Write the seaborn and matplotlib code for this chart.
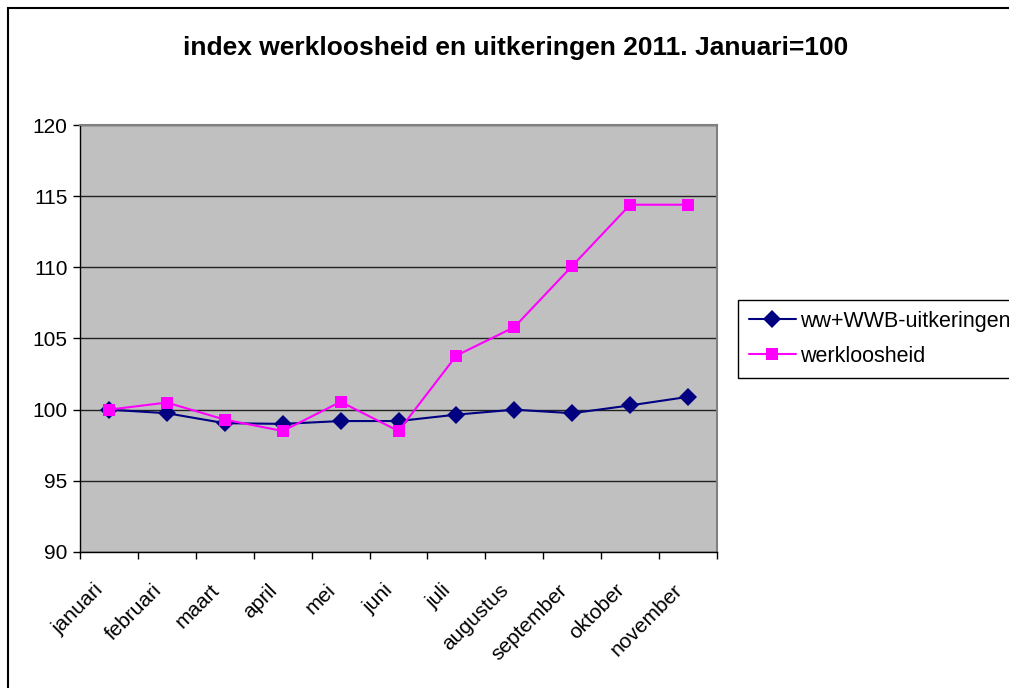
"""Index werkloosheid en uitkeringen 2011."""

import matplotlib.pyplot as plt
import matplotlib.transforms as mtransforms
import numpy as np
import pandas as pd
import seaborn as sns
from matplotlib.patches import Rectangle
from matplotlib.ticker import FixedLocator, MultipleLocator


MONTHS = ["januari", "februari", "maart", "april", "mei", "juni", "juli",
          "augustus", "september", "oktober", "november"]
UITKERINGEN = [100.0, 99.75, 99.05, 99.0, 99.2, 99.2, 99.65, 100.0, 99.75, 100.3, 100.9]
WERKLOOSHEID = [100.0, 100.5, 99.3, 98.5, 100.55, 98.5, 103.8, 105.8, 110.1, 114.4, 114.4]
SERIES = ["ww+WWB-uitkeringen", "werkloosheid"]
COLORS = {"ww+WWB-uitkeringen": "#000080", "werkloosheid": "#FF00FF"}
MARKERS = {"ww+WWB-uitkeringen": "D", "werkloosheid": "s"}

sns.set_style("white")
plt.rcParams["font.family"] = ["Liberation Sans", "DejaVu Sans"]
plt.rcParams["text.color"] = "black"
plt.rcParams["xtick.color"] = "black"
plt.rcParams["ytick.color"] = "black"

df = pd.DataFrame({
    "pos": np.tile(np.arange(len(MONTHS)), 2),
    "value": UITKERINGEN + WERKLOOSHEID,
    "serie": np.repeat(SERIES, len(MONTHS)),
})

fig = plt.figure(figsize=(10.09, 6.88), dpi=100)
ax = fig.add_axes([0.0793, 0.1977, 0.6313, 0.6206])
ax.set_facecolor("#C0C0C0")

sns.lineplot(data=df, x="pos", y="value", hue="serie", style="serie",
             palette=COLORS, markers=MARKERS, dashes=False, hue_order=SERIES,
             style_order=SERIES, markersize=9, linewidth=1.5,
             markeredgewidth=0, ax=ax)

ax.set_xlim(-0.5, len(MONTHS) - 0.5)
ax.set_ylim(90, 120)
ax.yaxis.set_major_locator(MultipleLocator(5))
ax.grid(axis="y", color="#222222", linewidth=1)
ax.set_axisbelow(True)

ax.set_xticks(np.arange(len(MONTHS)))
ax.set_xticklabels(MONTHS, rotation=45, ha="right", rotation_mode="anchor", fontsize=15)
ax.xaxis.set_minor_locator(FixedLocator(np.arange(-0.5, len(MONTHS), 1.0)))
ax.tick_params(axis="x", which="major", length=0, pad=14)
ax.tick_params(axis="x", which="minor", length=5, width=1, color="black", bottom=True)
ax.tick_params(axis="y", length=5, width=1, color="black", left=True, labelsize=15, pad=4)
ax.set_xlabel("")
ax.set_ylabel("")

# shift the rotated month labels a bit left and down, like the original
shift = mtransforms.ScaledTranslation(-15 / 100, -9 / 100, fig.dpi_scale_trans)
for lbl in ax.get_xticklabels():
    lbl.set_transform(lbl.get_transform() + shift)

for side in ["top", "right"]:
    ax.spines[side].set_color("#808080")
    ax.spines[side].set_linewidth(1.5)
for side in ["left", "bottom"]:
    ax.spines[side].set_color("black")
    ax.spines[side].set_linewidth(1)

handles, labels = ax.get_legend_handles_labels()
ax.legend_.remove()
leg = fig.legend(handles, labels, loc="upper left", bbox_to_anchor=(0.7314, 1 - 300 / 688),
                 fontsize=15.5, frameon=True, fancybox=False, framealpha=1,
                 edgecolor="black", borderpad=0.5, handlelength=2.2, handletextpad=0.2,
                 labelspacing=0.65, borderaxespad=0)
leg.get_frame().set_linewidth(1)

fig.text(516 / 1009, 1 - 48 / 688, "index werkloosheid en uitkeringen 2011. Januari=100",
         ha="center", va="center", fontsize=19, fontweight="bold")

fig.patches.append(Rectangle((8 / 1009, -0.05), 1.1, 1 - 8 / 688 + 0.05,
                             transform=fig.transFigure, fill=False,
                             edgecolor="black", linewidth=1.5))

fig.savefig("out.png", dpi=100)
